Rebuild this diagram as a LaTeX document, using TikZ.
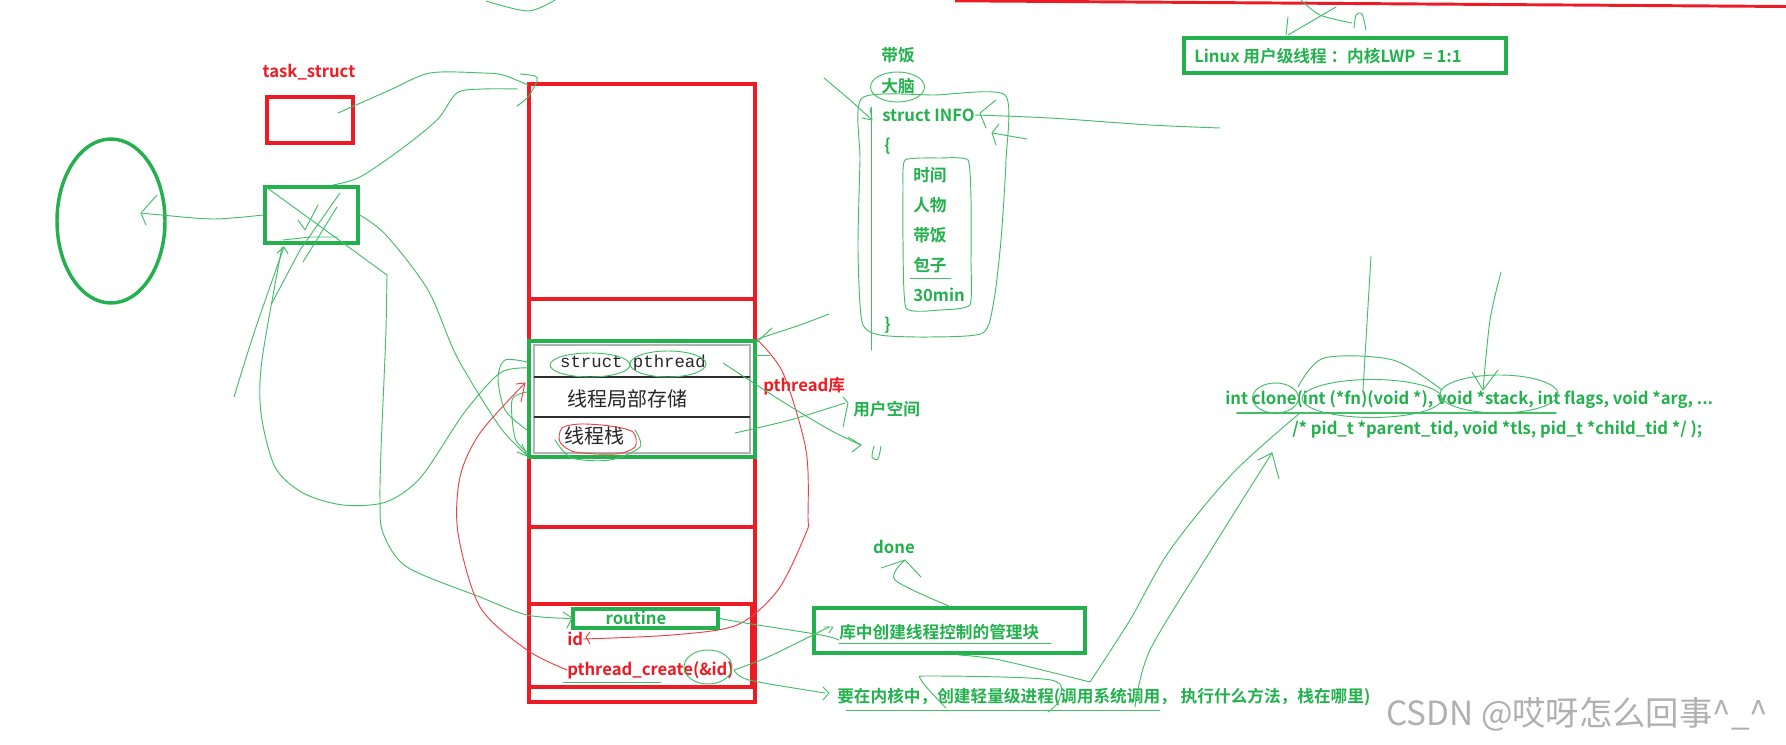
\documentclass[tikz,border=0pt]{standalone}
\usepackage{fontspec}
\setmainfont{Noto Sans CJK SC}[BoldFont={Noto Sans CJK SC Bold}]
\newfontfamily\shotfont{Noto Sans CJK SC}
\newfontfamily\shotmono{Liberation Mono}
\usetikzlibrary{
  positioning,
  fit,
  shapes.geometric
}
\definecolor{pred}{HTML}{ED1C24}
\definecolor{pgreen}{HTML}{22B14C}

\begin{document}
\begin{tikzpicture}[
    x=0.75pt, y=-0.75pt,
    font=\bfseries\fontsize{12.5}{15}\selectfont,
    rlbl/.style={text=pred, inner sep=0pt},
    glbl/.style={text=pgreen, inner sep=0pt},
    rbox/.style={draw=pred, line width=2.6pt, inner sep=0pt},
    gbox/.style={draw=pgreen, line width=2.6pt, inner sep=0pt},
    gpen/.style={draw=pgreen!85, line width=0.7pt, line cap=round, line join=round},
    rpen/.style={draw=pred!85, line width=0.7pt, line cap=round, line join=round},
    shot/.style={inner sep=0pt, text=black!85, font=\mdseries\shotfont\fontsize{15}{17}\selectfont}
  ]
  \fill[white] (0,0) rectangle (1786,745);
  \useasboundingbox (0,0) rectangle (1786,745);

  \begin{scope}
    % kernel side
    \node[rlbl] (tasklbl) at (309,72) {task\_struct};
    \node[rbox, fit={(267,97) (353,143)}] (taskbox) {};
    \node[gbox, fit={(265,187) (358,243)}] (thrbox) {};
    \node[gbox, ellipse, minimum width=81pt, minimum height=123pt] (mm) at (111,221) {};

    % address space
    \node[rbox, fit={(529,84) (755,702)}] (addr) {};
    \draw[pred, line width=2.6pt] (addr.west |- 0,299) -- (addr.east |- 0,299);
    \draw[pred, line width=2.6pt] (addr.west |- 0,527) -- (addr.east |- 0,527);
    \node[rbox, fit={(529,604) (752,687)}] (cbox) {};

    \fill[white] (531,343) rectangle (753,455);
    \draw[gray!60, line width=1.2pt] (534,345) rectangle (750,453);
    \draw[gray!35!black, line width=1.8pt] (534,377) -- (750,377);
    \draw[gray!35!black, line width=1.8pt] (534,417) -- (750,417);
    \node[gbox, fit={(529,341) (755,457)}] (pbox) {};
    \node[shot, font=\mdseries\shotmono\fontsize{13}{15}\selectfont] (spth) at (633,363) {struct pthread};
    \node[shot] (tls) at (627,399) {线程局部存储};
    \node[shot] (tstk) at (594,436) {线程栈};

    \node[rlbl, anchor=west] (plib) at (763,386) {pthread库};
    \node[glbl, anchor=west] (uspace) at (853,409) {用户空间};

    \node[gbox, fit={(573,609) (718,628)}] (rtn) {};
    \node[glbl] (rtnlbl) at (636,618) {routine};
    \node[rlbl, anchor=west] (idlbl) at (567,639) {id};
    \node[rlbl, anchor=west] (pcreate) at (567,670) {pthread\_create(\&id)};

    \node[gbox, fit={(814,608) (1085,653)}] (mgmt) {};
    \node[glbl, anchor=west] (mgmtlbl) at (839,632) {库中创建线程控制的管理块};
    \node[glbl] (done) at (894,547) {done};
    \node[glbl, anchor=west] (kern) at (837,697) {要在内核中，创建轻量级进程(调用系统调用， 执行什么方法，栈在哪里)};

    % struct INFO
    \node[glbl] (dai) at (898,55) {带饭};
    \node[glbl] (brain) at (898,86) {大脑};
    \node[glbl, anchor=west] (info) at (882,115) {struct INFO};
    \node[glbl, anchor=west] (lbr) at (884,146) {\{};
    \node[glbl, anchor=west] (f1) at (913,175) {时间};
    \node[glbl, anchor=west] (f2) at (913,205) {人物};
    \node[glbl, anchor=west] (f3) at (913,235) {带饭};
    \node[glbl, anchor=west] (f4) at (913,265) {包子};
    \node[glbl, anchor=west] (f5) at (913,295) {30min};
    \node[glbl, anchor=west] (rbr) at (884,325) {\}};

    \node[gbox, fit={(1184,38) (1506,73)}] (ratio) {};
    \node[glbl, anchor=west] (ratiolbl) at (1194,56) {Linux 用户级线程\ ：内核LWP\ \ = 1:1};

    \node[glbl, anchor=west] (clone1) at (1225,400) {int clone(int (*fn)(void *), void *stack, int flags, void *arg, ...};
    \node[glbl, anchor=west] (clone2) at (1292,429) {/* pid\_t *parent\_tid, void *tls, pid\_t *child\_tid */ );};

    \node[anchor=west, inner sep=0pt, text=gray!62, font=\mdseries\fontsize{25}{28}\selectfont] (wm) at (1386,714) {CSDN @哎呀怎么回事\textasciicircum\_\textasciicircum};

    % pen strokes
    \draw[pred, line width=2.2pt] (955,0.8) -- (1786,6.5);
    \draw[gpen] plot[smooth] coordinates {(486,1) (528,11) (555,0)};

    \draw[gpen] plot[smooth] coordinates {(thrbox.west) (214,219) (161,215) (141,213)};
    \draw[gpen] (157,195) -- (141,213) -- (146,225);
    \draw[gpen] (266,187) -- (387,275);
    \draw[gpen] (298,220) -- (305,230) -- (318,205);
    \draw[gpen] (340,193) -- (300,250) -- (272,303);
    \draw[gpen] (337,207) -- (303,262);
    \draw[gpen] (283,240) -- (310,237) -- (338,237);
    \draw[gpen] plot[smooth] coordinates {(234,397) (255,330) (284,247)};
    \draw[gpen] (277,253) -- (284,247) -- (288,254);

    \draw[gpen] plot[smooth] coordinates {(282,247) (262,360) (261,413) (275,467) (303,493) (343,505) (386,502) (421,477) (464,413) (500,373) (528,368)};
    \draw[gpen] plot[smooth] coordinates {(thrbox.east) (386,235) (428,290) (457,357) (500,427) (527,455)};
    \draw[gpen] (517,452) -- (527,456) -- (522,444);
    \draw[gpen] plot[smooth] coordinates {(387,275) (386,330) (384,380) (381,450) (380,500) (383,533) (407,567) (480,597) (527,615) (rtn.west)};
    \draw[gpen] (563,612) -- (572,618) -- (567,628);
    \draw[gpen] plot[smooth] coordinates {(527,362) (505,360) (498,378) (505,410) (527,430)};
    \draw[gpen] plot[smooth] coordinates {(527,392) (512,400) (515,438) (527,452)};

    \draw[gpen] plot[smooth] coordinates {(333,185) (360,177) (400,150) (437,120) (457,93) (483,89) (518,89)};
    \draw[gpen] plot[smooth] coordinates {(338,113) (390,90) (430,73) (483,73) (503,75) (528,85)};
    \draw[gpen] plot[smooth] coordinates {(520,74) (535,76) (537,81) (528,97) (517,106)};

    \draw[rpen] plot[smooth] coordinates {(pcreate.west) (527,650) (480,607) (458,533) (460,477) (480,433) (525,383)};
    \draw[rpen] (516,384) -- (525,383) -- (521,402);
    \draw[rpen] plot[smooth] coordinates {(pbox.north east) (783,373) (806,450) (808,517) (806,533) (778,590) (737,625) (672,635) (idlbl.east)};
    \draw[rpen] (590,632) -- (586,637) -- (590,644);
    \draw[rpen] plot[smooth cycle] coordinates {(562,428) (580,424) (610,426) (633,432) (635,447) (615,454) (575,452) (560,442)};
    \draw[gpen] (590,365) ellipse (40 and 12);
    \draw[gpen] (668,364) ellipse (38 and 13);
    \draw[gpen] plot[smooth] coordinates {(555,440) (572,458) (610,460) (640,447) (635,430)};

    \draw[gpen] plot[smooth] coordinates {(723,363) (780,400) (830,430) (861,445)};
    \draw[gpen] (848,437) -- (861,445) -- (852,452);
    \draw[gpen] plot[smooth] coordinates {(735,433) (790,420) (845,403)};
    \draw[gpen] (843,397) -- (848,403) -- (843,427);
    \draw[gpen] plot[smooth] coordinates {(874,446) (872,457) (878,459) (881,446)};
    \draw[gpen] (754,355) -- (770,355);

    \draw[gpen] (897.5,87) ellipse (27 and 15);
    \draw[gpen] plot[smooth cycle, tension=0.4] coordinates {(862,98) (935,95) (1005,95) (1006,160) (1001,240) (994,300) (983,333) (930,337) (880,335) (862,322) (858,250) (860,160)};
    \draw[gpen] plot[smooth cycle, tension=0.3] coordinates {(905,160) (940,158) (968,160) (971,200) (971,260) (970,305) (940,310) (906,308) (903,240) (903,190)};
    \draw[gpen] (910,278) -- (951,278);
    \draw[gpen] (871,107) -- (871,350);
    \draw[gpen] plot[smooth] coordinates {(824,78) (850,100) (872,120)};
    \draw[gpen] (862,118) -- (872,120) -- (870,108);
    \draw[gpen] plot[smooth] coordinates {(info.east) (1050,118) (1150,125) (1220,128)};
    \draw[gpen] (996,100) -- (980,113) -- (986,128);
    \draw[gpen] (1027,139) -- (992,133);
    \draw[gpen] (999,124) -- (992,133) -- (996,145);
    \draw[gpen] plot[smooth] coordinates {(829,314) (800,325) (pbox.north east)};
    \draw[gpen] (772,328) -- (756,343);

    \draw[gpen] plot[smooth] coordinates {(rtn.east) (745,623) (821,635) (839,640)};
    \draw[gpen] (839,643) -- (1051,643);
    \draw[gpen] plot[smooth] coordinates {(pcreate.east) (768,657) (829,627)};
    \draw[gpen] (824,627) -- (833,627) -- (829,633);
    \draw[gpen] plot[smooth] coordinates {(pcreate.east) (749,680) (825,693)};
    \draw[gpen] (823,687) -- (829,693) -- (823,700);
    \draw[gpen] (563,682) -- (661,682);
    \draw[gpen] (708,667) ellipse (24 and 17);
    \draw[gpen] plot[smooth] coordinates {(mgmt.north) (895,580) (905,560)};
    \draw[gpen] (881,568) -- (905,560) -- (921,577);

    \draw[gpen] plot[smooth] coordinates {(959,655) (1000,660) (1090,682)};
    \draw[gpen] plot[smooth] coordinates {(1090,682) (1130,620) (1170,550) (1233,473) (1300,413)};
    \draw[gpen] plot[smooth] coordinates {(1135,707) (1150,650) (1211,550) (1272,453)};
    \draw[gpen] (1258,460) -- (1272,453) -- (1279,479);
    \draw[gpen] (846,710) -- (1160,710);
    \draw[gpen] plot[smooth] coordinates {(946,708) (921,680) (933,676) (1051,680) (1059,700) (1048,712)};

    \draw[gpen] (1275.5,398) ellipse (23 and 15);
    \draw[gpen] (1372,398.5) ellipse (70 and 19);
    \draw[gpen] (1499,394) ellipse (59 and 19);
    \draw[gpen] plot[smooth] coordinates {(1298,387) (1324,358) (1393,360) (1442,390)};
    \draw[gpen, line width=1.2pt] (1237,413) -- (1556,413);
    \draw[gpen] (1371,256) -- (1363,390);
    \draw[gpen] plot[smooth] coordinates {(1501,272) (1490,320) (1483,390)};
    \draw[gpen] (1472,372) -- (1483,390) -- (1498,370);

    \draw[gpen] (1288,17) -- (1286,35);
    \draw[gpen] (1336,7) -- (1288,35);
    \draw[gpen] plot[smooth] coordinates {(1301,0) (1320,15) (1352,23)};
    \draw[gpen] plot[smooth] coordinates {(1354,28) (1356,15) (1362,14) (1366,30)};
  \end{scope}
\end{tikzpicture}
\end{document}
